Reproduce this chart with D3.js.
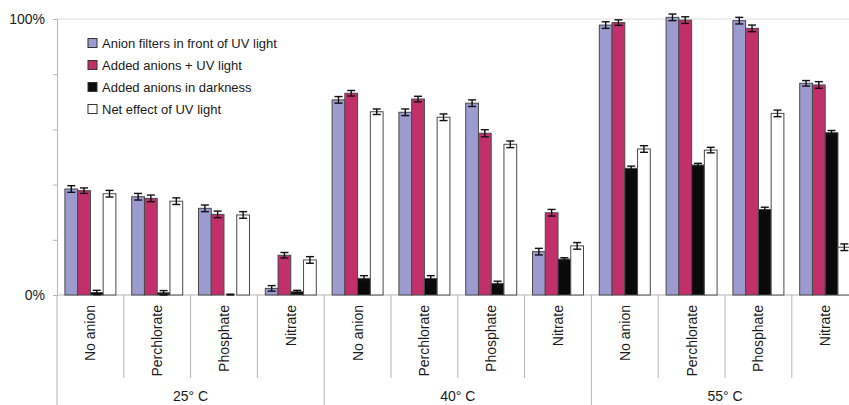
<!DOCTYPE html>
<html>
<head>
<meta charset="utf-8">
<script src="https://cdn.jsdelivr.net/npm/d3@7"></script>
<style>
  body { margin: 0; background: #fff; font-family: "Liberation Sans", Arial, sans-serif; }
  svg { display: block; }
</style>
</head>
<body>
<div id="chart"></div>
<script>
// chart data (% of maximum)
const temps = ["25° C", "40° C", "55° C"];
const anions = ["No anion", "Perchlorate", "Phosphate", "Nitrate"];
const seriesNames = [
  "Anion filters in front of UV light",
  "Added anions + UV light",
  "Added anions in darkness",
  "Net effect of UV light"
];
const seriesColors = ["#9c9bd0", "#c2306b", "#0a0a0a", "#ffffff"];

const filtersUV  = [38.4, 35.6, 31.4, 2.4,  70.7, 66.2, 69.5, 15.7,  97.8, 100.6, 99.4, 76.7];
const addedUV    = [37.8, 35.0, 29.2, 14.4, 73.1, 71.0, 58.6, 29.8,  98.7, 99.6,  96.6, 76.1];
const addedDark  = [0.9,  0.8,  0.0,  1.2,  6.0,  6.0,  4.2,  13.0,  45.9, 47.1,  31.0, 58.8];
const netUV      = [36.7, 34.0, 29.0, 12.7, 66.4, 64.4, 54.6, 17.8,  52.9, 52.5,  65.8, 17.3];
const errFilters = [1.2, 1.2, 1.2, 1.0, 1.2, 1.2, 1.2, 1.2, 1.2, 1.2, 1.2, 1.0];
const errAdded   = [1.0, 1.2, 1.2, 1.0, 1.0, 1.0, 1.3, 1.2, 1.0, 1.2, 1.2, 1.2];
const errDark    = [0.8, 0.8, 0.3, 0.5, 1.0, 1.0, 0.8, 0.5, 0.8, 0.6, 0.8, 0.8];
const errNet     = [1.2, 1.2, 1.2, 1.2, 1.0, 1.2, 1.2, 1.2, 1.2, 1.0, 1.2, 1.2];

const values = [filtersUV, addedUV, addedDark, netUV];
const errors = [errFilters, errAdded, errDark, errNet];

const width = 849;
const height = 405;
const left = 57;
const catWidth = 66.8;

const cats = [];
temps.forEach(t => anions.forEach(a => cats.push(t + "|" + a)));

const x0 = d3.scaleBand().domain(cats).range([left, left + catWidth * cats.length]);
const x1 = d3.scaleBand().domain(d3.range(4)).range([0, x0.bandwidth()]).paddingOuter(0.62);
const y = d3.scaleLinear().domain([0, 100]).range([295, 19]);

const svg = d3.select("#chart").append("svg")
  .attr("width", width)
  .attr("height", height);

// top gridline
svg.append("line")
  .attr("x1", left).attr("x2", width)
  .attr("y1", y(100)).attr("y2", y(100))
  .attr("stroke", "#dcdcdc");

// y axis
const yAxis = svg.append("g")
  .attr("transform", `translate(${left},0)`)
  .call(d3.axisLeft(y)
    .tickValues([0, 20, 40, 60, 80, 100])
    .tickSize(4)
    .tickPadding(8)
    .tickFormat(d => (d === 0 || d === 100) ? d + "%" : ""));
yAxis.select(".domain").attr("stroke", "#b5b5b5");
yAxis.selectAll(".tick line").attr("stroke", "#b5b5b5");
yAxis.selectAll("text")
  .style("font-family", "Liberation Sans, Arial, sans-serif")
  .style("font-size", "14px")
  .attr("fill", "#1a1a1a");

// y axis continues down through the label area
svg.append("line")
  .attr("x1", left).attr("x2", left)
  .attr("y1", y(0)).attr("y2", height)
  .attr("stroke", "#b5b5b5");

// baseline
svg.append("line")
  .attr("x1", left).attr("x2", width)
  .attr("y1", y(0)).attr("y2", y(0))
  .attr("stroke", "#b5b5b5");

// category separators
cats.forEach((c, i) => {
  if (i === 0) return;
  const xs = x0(c);
  const major = i % anions.length === 0;
  svg.append("line")
    .attr("x1", xs).attr("x2", xs)
    .attr("y1", y(0)).attr("y2", major ? height : 378)
    .attr("stroke", "#b5b5b5");
});

// bars
const bars = [];
cats.forEach((c, i) => {
  values.forEach((v, s) => bars.push({ cat: c, s: s, v: v[i], e: errors[s][i] }));
});

svg.append("g").selectAll("rect")
  .data(bars)
  .join("rect")
  .attr("x", d => x0(d.cat) + x1(d.s))
  .attr("y", d => y(d.v))
  .attr("width", x1.bandwidth())
  .attr("height", d => y(0) - y(d.v))
  .attr("fill", d => seriesColors[d.s])
  .attr("stroke", "#4a4a4a")
  .attr("stroke-width", 1);

// error bars
const eb = svg.append("g").attr("stroke", "#111").attr("stroke-width", 1.4);
bars.forEach(d => {
  const cx = x0(d.cat) + x1(d.s) + x1.bandwidth() / 2;
  const lo = Math.max(0, d.v - d.e), hi = d.v + d.e;
  eb.append("line").attr("x1", cx).attr("x2", cx).attr("y1", y(lo)).attr("y2", y(hi));
  eb.append("line").attr("x1", cx - 4).attr("x2", cx + 4).attr("y1", y(hi)).attr("y2", y(hi));
  eb.append("line").attr("x1", cx - 4).attr("x2", cx + 4).attr("y1", y(lo)).attr("y2", y(lo));
});

// category labels (rotated)
cats.forEach(c => {
  const cx = x0(c) + x0.bandwidth() / 2;
  svg.append("text")
    .attr("transform", `translate(${cx + 5},305) rotate(-90)`)
    .attr("text-anchor", "end")
    .style("font-size", "14px")
    .attr("fill", "#1a1a1a")
    .text(c.split("|")[1]);
});

// temperature labels
temps.forEach((t, i) => {
  const start = x0(cats[i * anions.length]);
  const cx = start + x0.bandwidth() * anions.length / 2;
  svg.append("text")
    .attr("x", cx).attr("y", 401)
    .attr("text-anchor", "middle")
    .style("font-size", "14px")
    .attr("fill", "#1a1a1a")
    .text(t);
});

// legend
const legend = svg.append("g").attr("transform", "translate(88,43)");
seriesNames.forEach((name, i) => {
  const g = legend.append("g").attr("transform", `translate(0,${i * 22})`);
  g.append("rect")
    .attr("x", 0).attr("y", -4.5)
    .attr("width", 9).attr("height", 9)
    .attr("fill", seriesColors[i])
    .attr("stroke", "#333");
  g.append("text")
    .attr("x", 14).attr("y", 4.5)
    .style("font-size", "13px")
    .attr("fill", "#1a1a1a")
    .text(name);
});
</script>
</body>
</html>
